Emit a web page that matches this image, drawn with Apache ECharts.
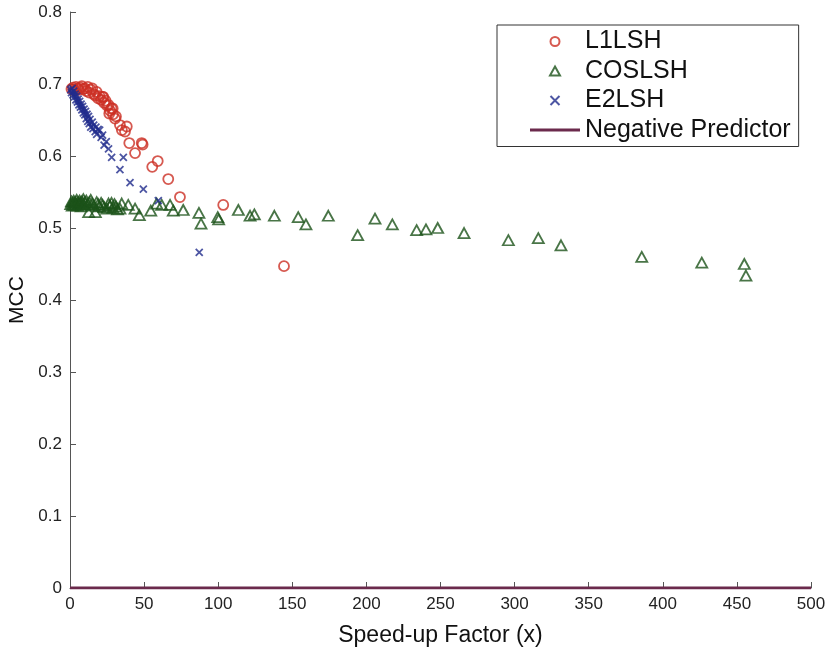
<!DOCTYPE html>
<html><head><meta charset="utf-8">
<script src="https://cdn.jsdelivr.net/npm/echarts@6/dist/echarts.min.js"></script>
<style>html,body{margin:0;padding:0;background:#fff}#c{width:827px;height:650px}</style>
</head><body><div id="c"></div>
<script>
const xTicks = [0,50,100,150,200,250,300,350,400,450,500];
const yTicks = [0,0.1,0.2,0.3,0.4,0.5,0.6,0.7,0.8];

const l1X = [1,2,3,4,5,6,7,8,9,10,11,12,13,14,15,16,17,18,19,20,21,22,22.5,23,24,25,26,26.5,27,28,28.8,29,30.4,31,33.7,35,37.1,38.3,40,43.9,48.4,49,55.5,59.2,66.3,74.2,103.4,144.4];
const l1Y = [0.693,0.695,0.691,0.696,0.694,0.692,0.695,0.697,0.693,0.694,0.690,0.696,0.688,0.692,0.694,0.686,0.684,0.689,0.680,0.683,0.678,0.682,0.682,0.674,0.677,0.670,0.671,0.659,0.663,0.666,0.666,0.658,0.652,0.655,0.643,0.636,0.634,0.641,0.618,0.604,0.618,0.616,0.585,0.593,0.568,0.543,0.532,0.447];

const cosX = [0.5,1,1.5,2,2.5,3,3.5,4,4.5,5,5.5,6,6.5,7,7.5,8,8.5,9,9.5,10,11,12,12.6,13,14,15,16,17.1,18,19,20,21,22,23,24.8,26,27,28,29,30,31,32,33.7,34.9,39.3,43.9,46.8,54.5,58.5,61.9,67.5,69.7,76.4,87.0,88.4,99.7,100.3,113.6,121.5,124.4,137.9,154.0,159.2,174.3,194.1,205.8,217.5,233.9,240.2,248.1,265.9,295.8,316.0,331.3,385.8,426.3,455.0,456.1];
const cosY = [0.533,0.537,0.531,0.535,0.538,0.532,0.536,0.534,0.539,0.531,0.536,0.533,0.538,0.535,0.530,0.537,0.534,0.540,0.532,0.536,0.538,0.533,0.522,0.536,0.539,0.534,0.531,0.522,0.536,0.533,0.530,0.535,0.532,0.529,0.527,0.534,0.531,0.535,0.528,0.533,0.530,0.526,0.527,0.534,0.532,0.527,0.518,0.524,0.534,0.532,0.532,0.524,0.525,0.521,0.506,0.515,0.512,0.525,0.517,0.519,0.517,0.515,0.505,0.517,0.490,0.513,0.505,0.497,0.498,0.500,0.493,0.483,0.486,0.476,0.460,0.452,0.450,0.434];

const e2X = [0.5,1,1.5,2,2.5,3,3.5,4,4.5,5,5.5,6,6.5,7,7.5,8,8.5,9,9.5,10,10.5,11,11.5,12,12.5,13,13.5,14,15,15.5,16,17,17.5,18,19,20,21,22,23,24.5,26,28.1,33.7,36.0,40.5,49.5,59.6,87.2];
const e2Y = [0.692,0.688,0.694,0.685,0.690,0.682,0.686,0.678,0.683,0.675,0.679,0.671,0.676,0.668,0.672,0.664,0.669,0.660,0.665,0.657,0.662,0.652,0.658,0.648,0.655,0.645,0.651,0.640,0.647,0.638,0.643,0.634,0.640,0.630,0.637,0.636,0.626,0.629,0.615,0.620,0.610,0.598,0.581,0.598,0.563,0.554,0.538,0.466];

const negX = [0,500];
const negY = [0,0];

const zip = (a,b) => a.map((v,i)=>[v,b[i]]);
const FONT = 'Liberation Sans';
const cRed = '#cc2f24', cGreen = '#1b5219', cBlue = '#212c8c', cNeg = '#6b2a4c';

const chart = echarts.init(document.getElementById('c'), null, {renderer:'canvas'});
chart.setOption({
  animation:false,
  backgroundColor:'#fff',
  textStyle:{fontFamily:FONT},
  grid:{left:70,right:16,top:12,bottom:62,containLabel:false,outerBoundsMode:'none'},
  legend:{
    orient:'vertical', left:497, top:25,
    backgroundColor:'#fff', borderColor:'#333', borderWidth:1,
    padding:[4,8,4,33], itemGap:4.5, itemWidth:50, itemHeight:9,
    symbolKeepAspect:true,
    textStyle:{fontFamily:FONT,fontSize:25,lineHeight:25,color:'#111'},
    data:[
      {name:'L1LSH', icon:'circle'},
      {name:'COSLSH', icon:'path://M5 0L10 9L0 9Z'},
      {name:'E2LSH', icon:'path://M0 0L10 10M10 0L0 10'},
      {name:'Negative Predictor', icon:'path://M0 0H50V3H0Z', itemStyle:{color:cNeg,borderWidth:0}}
    ]
  },
  xAxis:{
    type:'value', min:xTicks[0], max:xTicks[xTicks.length-1], interval:50,
    name:'Speed-up Factor (x)', nameLocation:'middle', nameGap:36,
    nameTextStyle:{fontFamily:FONT,fontSize:23,color:'#111'},
    axisLine:{lineStyle:{color:'#555',width:1}},
    axisTick:{inside:true,length:6,lineStyle:{color:'#555'}},
    axisLabel:{fontFamily:FONT,fontSize:17,color:'#222',margin:8},
    splitLine:{show:false}
  },
  yAxis:{
    type:'value', min:yTicks[0], max:yTicks[yTicks.length-1], interval:0.1,
    name:'MCC', nameLocation:'middle', nameGap:37, nameRotate:90,
    nameTextStyle:{fontFamily:FONT,fontSize:21,color:'#111'},
    axisLine:{show:true,lineStyle:{color:'#555',width:1}},
    axisTick:{show:true,inside:true,length:6,lineStyle:{color:'#555'}},
    axisLabel:{fontFamily:FONT,fontSize:17,color:'#222',margin:8,formatter:v=>String(+v.toFixed(1))},
    splitLine:{show:false}
  },
  series:[
    {name:'L1LSH',type:'scatter',data:zip(l1X,l1Y),symbol:'circle',symbolSize:10,
     itemStyle:{color:'transparent',borderColor:cRed,borderWidth:1.8},z:3},
    {name:'COSLSH',type:'scatter',data:zip(cosX,cosY),symbol:'triangle',symbolSize:[11,10],
     itemStyle:{color:'transparent',borderColor:cGreen,borderWidth:1.8},z:2},
    {name:'E2LSH',type:'scatter',data:zip(e2X,e2Y),symbol:'path://M0 0L10 10M10 0L0 10',symbolSize:7,
     itemStyle:{color:'transparent',borderColor:cBlue,borderWidth:1.8},z:4},
    {name:'Negative Predictor',type:'line',data:zip(negX,negY),symbol:'none',showSymbol:false,
     lineStyle:{color:cNeg,width:3},itemStyle:{color:cNeg},z:5}
  ]
});
</script></body></html>
